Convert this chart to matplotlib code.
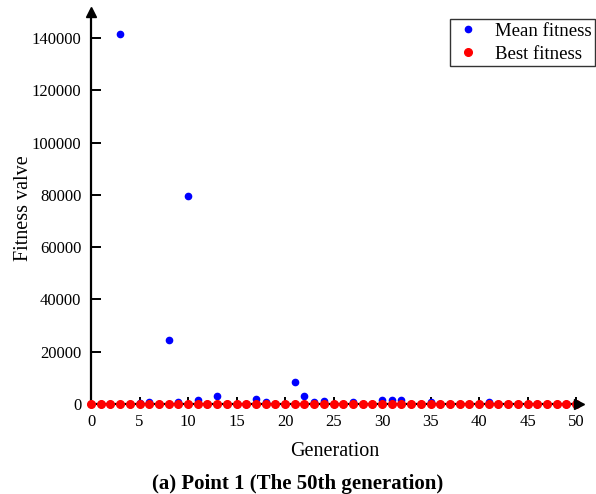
import matplotlib
matplotlib.use("Agg")
import matplotlib.pyplot as plt
import numpy as np

generations = list(range(0, 51))
mean_fitness = [100, 100, 100, 141600, 100, 500, 650, 100, 24500, 770,
                79500, 1500, 100, 3150, 100, 100, 100, 1800, 880, 100,
                100, 8500, 3150, 880, 1150, 100, 100, 880, 100, 100,
                1650, 1650, 1400, 100, 100, 770, 100, 100, 100, 100,
                100, 880, 100, 100, 100, 100, 100, 100, 100, 100, 100]
best_fitness = [30] * 51
x_ticks = [0, 5, 10, 15, 20, 25, 30, 35, 40, 45, 50]
y_ticks = [0, 20000, 40000, 60000, 80000, 100000, 120000, 140000]

plt.rcParams['font.family'] = ['Liberation Serif', 'DejaVu Serif']
plt.rcParams['mathtext.fontset'] = 'stix'

fig = plt.figure(figsize=(5.96, 4.94), dpi=100)
ax = fig.add_axes([0.1527, 0.1822, 0.8188, 0.7935])

ax.plot(generations, mean_fitness, 'o', color='#0000ff', markersize=4.5,
        label='Mean fitness', zorder=3, clip_on=False)
ax.plot(generations, best_fitness, 'o', color='#ff0000', markersize=5.5,
        label='Best fitness', zorder=4, clip_on=False)

ax.set_xlim(0, 50.3)
ax.set_ylim(0, 150000)
ax.set_xticks(x_ticks)
ax.set_yticks(y_ticks)
ax.spines['top'].set_visible(False)
ax.spines['right'].set_visible(False)
ax.spines['left'].set_linewidth(1.6)
ax.spines['bottom'].set_linewidth(1.6)
ax.tick_params(axis='both', direction='in', width=1.4, labelsize=12)
ax.tick_params(axis='y', length=7, pad=7)
ax.tick_params(axis='x', length=5, pad=7)

# arrow heads
ax.plot(1, 0, '>', color='black', markersize=7, transform=ax.transAxes, clip_on=False, zorder=5)
ax.plot(0, 1, '^', color='black', markersize=7, transform=ax.transAxes, clip_on=False, zorder=5)

ax.set_xlabel('Generation', fontsize=14.5, labelpad=9)
ax.set_ylabel('Fitness valve', fontsize=14.5, labelpad=-1)

leg = fig.legend(loc='upper right', bbox_to_anchor=(1 - 1 / 596, 1 - 19 / 494), fontsize=13.5,
                 frameon=True, fancybox=False, edgecolor='black', handletextpad=0.6,
                 borderpad=0.2, labelspacing=0.3, handlelength=1.6, numpoints=1,
                 borderaxespad=0)
leg.get_frame().set_linewidth(1.0)

fig.text(0.5, 1 - 484 / 494, '(a) Point 1 (The 50th generation)', ha='center', va='center',
         fontsize=15, fontweight='bold')

fig.savefig('out.png', dpi=100)
